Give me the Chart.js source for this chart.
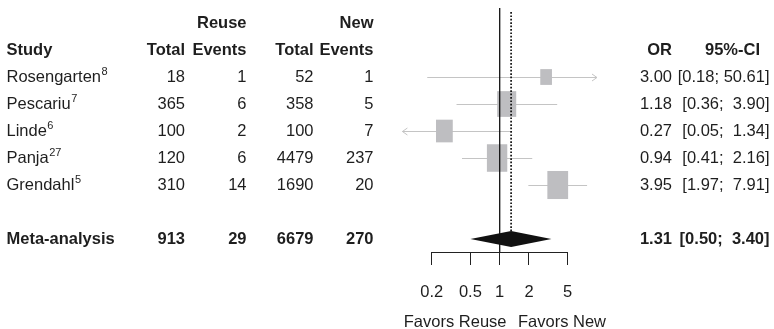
<!DOCTYPE html>
<html>
<head>
<meta charset="utf-8">
<script src="https://cdn.jsdelivr.net/npm/chart.js@4"></script>
<style>
  html, body { margin: 0; padding: 0; background: #fff; }
  canvas { display: block; }
</style>
</head>
<body>
<canvas id="forest" width="774" height="329"></canvas>
<script>
// Study data
const studies = ['Rosengarten', 'Pescariu', 'Linde', 'Panja', 'Grendahl'];
const refs = ['8', '7', '6', '27', '5'];
const reuseTotal = [18, 365, 100, 120, 310];
const reuseEvents = [1, 6, 2, 6, 14];
const newTotal = [52, 358, 100, 4479, 1690];
const newEvents = [1, 5, 7, 237, 20];
const oddsRatio = [3.00, 1.18, 0.27, 0.94, 3.95];
const ciLower = [0.18, 0.36, 0.05, 0.41, 1.97];
const ciUpper = [50.61, 3.90, 1.34, 2.16, 7.91];
const weights = [8.4, 22.3, 17.3, 25.5, 26.5]; // % weight

// Pooled estimate
const metaLabel = 'Meta-analysis';
const metaTotals = [913, 29, 6679, 270];
const metaOR = 1.31;
const metaLower = 0.50;
const metaUpper = 3.40;

// Axis
const xTicks = [0.2, 0.5, 1, 2, 5];
const xLimits = [0.1, 10];

const FONT = '"Liberation Sans", Arial, Helvetica, sans-serif';
const FS = 16.5;
const TEXT = '#1e1e1e';

function fmt(v) {
  return v.toFixed(2);
}
function ciText(lo, hi) {
  const h = fmt(hi);
  return '[' + fmt(lo) + ';' + (h.length < 5 ? '  ' : ' ') + h + ']';
}

const forestPlugin = {
  id: 'forest',
  afterDraw(chart) {
    const { ctx, chartArea } = chart;
    const x = chart.scales.x;
    const y = chart.scales.y;
    const px = (v) => x.getPixelForValue(v);
    const py = (k) => y.getPixelForValue(k);
    const metaRow = studies.length + 1;

    ctx.save();

    // confidence intervals, clipped to xlim with arrows
    ctx.strokeStyle = '#c4c4c4';
    ctx.lineWidth = 1;
    studies.forEach((s, i) => {
      const yy = Math.round(py(i)) + 0.5;
      const lo = Math.max(ciLower[i], xLimits[0]);
      const hi = Math.min(ciUpper[i], xLimits[1]);
      ctx.beginPath();
      ctx.moveTo(px(lo), yy);
      ctx.lineTo(px(hi), yy);
      ctx.stroke();
      if (ciLower[i] < xLimits[0]) {
        const ax = px(xLimits[0]);
        ctx.beginPath();
        ctx.moveTo(ax + 5, yy - 3.5);
        ctx.lineTo(ax, yy);
        ctx.lineTo(ax + 5, yy + 3.5);
        ctx.stroke();
      }
      if (ciUpper[i] > xLimits[1]) {
        const ax = px(xLimits[1]);
        ctx.beginPath();
        ctx.moveTo(ax - 5, yy - 3.5);
        ctx.lineTo(ax, yy);
        ctx.lineTo(ax - 5, yy + 3.5);
        ctx.stroke();
      }
    });

    // boxes sized by weight
    ctx.fillStyle = '#bebec1';
    studies.forEach((s, i) => {
      const h = Math.sqrt(weights[i]) * 5.45;
      const w = h * 0.74;
      ctx.fillRect(px(oddsRatio[i]) - w / 2, py(i) - h / 2, w, h);
    });

    // line of no effect
    ctx.strokeStyle = '#111';
    ctx.lineWidth = 1.3;
    ctx.beginPath();
    ctx.moveTo(px(1), chartArea.top);
    ctx.lineTo(px(1), chartArea.bottom);
    ctx.stroke();

    // pooled estimate (dotted)
    ctx.lineWidth = 1.7;
    ctx.setLineDash([1.7, 1.7]);
    ctx.beginPath();
    ctx.moveTo(px(metaOR), chartArea.top + 4);
    ctx.lineTo(px(metaOR), py(metaRow) - 8);
    ctx.stroke();
    ctx.setLineDash([]);

    // diamond
    const dy = py(metaRow);
    ctx.fillStyle = '#111';
    ctx.beginPath();
    ctx.moveTo(px(metaLower), dy);
    ctx.lineTo(px(metaOR), dy - 8);
    ctx.lineTo(px(metaUpper), dy);
    ctx.lineTo(px(metaOR), dy + 8);
    ctx.closePath();
    ctx.fill();

    // table text
    const cols = [185, 246.5, 313.5, 373.5];
    const orRight = 672;
    const ciRight = 769.5;
    const regular = FS + 'px ' + FONT;
    const bold = 'bold ' + FS + 'px ' + FONT;
    ctx.fillStyle = TEXT;
    ctx.textBaseline = 'middle';

    ctx.font = bold;
    ctx.textAlign = 'right';
    ctx.fillText('Reuse', cols[1], py(-2));
    ctx.fillText('New', cols[3], py(-2));
    ctx.fillText('Total', cols[0], py(-1));
    ctx.fillText('Events', cols[1], py(-1));
    ctx.fillText('Total', cols[2], py(-1));
    ctx.fillText('Events', cols[3], py(-1));
    ctx.fillText('OR', orRight, py(-1));
    ctx.fillText('95%-CI', 760, py(-1));
    ctx.textAlign = 'left';
    ctx.fillText('Study', 6.5, py(-1));

    studies.forEach((s, i) => {
      const yy = py(i);
      ctx.font = regular;
      ctx.textAlign = 'left';
      ctx.fillText(s, 6.5, yy);
      const sw = ctx.measureText(s).width;
      ctx.font = '11px ' + FONT;
      ctx.fillText(refs[i], 6.5 + sw + 0.5, yy - 5.5);
      ctx.font = regular;
      ctx.textAlign = 'right';
      [reuseTotal[i], reuseEvents[i], newTotal[i], newEvents[i]].forEach((v, c) => {
        ctx.fillText(String(v), cols[c], yy);
      });
      ctx.fillText(fmt(oddsRatio[i]), orRight, yy);
      ctx.fillText(ciText(ciLower[i], ciUpper[i]), ciRight, yy);
    });

    ctx.font = bold;
    ctx.textAlign = 'left';
    ctx.fillText(metaLabel, 6.5, dy);
    ctx.textAlign = 'right';
    metaTotals.forEach((v, c) => ctx.fillText(String(v), cols[c], dy));
    ctx.fillText(fmt(metaOR), orRight, dy);
    ctx.fillText(ciText(metaLower, metaUpper), ciRight, dy);

    // direction labels
    ctx.font = regular;
    ctx.textAlign = 'right';
    ctx.fillText('Favors Reuse', 506.5, 322);
    ctx.textAlign = 'left';
    ctx.fillText('Favors New', 518, 322);

    ctx.restore();
  }
};

new Chart(document.getElementById('forest'), {
  type: 'scatter',
  data: {
    datasets: [{
      data: oddsRatio.map((v, i) => ({ x: v, y: i })),
      pointRadius: 0
    }]
  },
  options: {
    responsive: false,
    animation: false,
    devicePixelRatio: 1,
    layout: { padding: { left: 431.7, right: 206.3, top: 8, bottom: 7 } },
    plugins: { legend: { display: false }, tooltip: { enabled: false } },
    scales: {
      x: {
        type: 'logarithmic',
        min: 0.2,
        max: 5,
        afterBuildTicks: (scale) => {
          scale.ticks = xTicks.map((v) => ({ value: v }));
        },
        afterFit: (scale) => {
          scale.height = 70;
        },
        ticks: {
          autoSkip: false,
          maxRotation: 0,
          padding: 18,
          color: TEXT,
          font: { family: FONT, size: FS },
          callback: (v) => String(v)
        },
        grid: { drawOnChartArea: false, drawTicks: true, tickLength: 13, color: '#222', lineWidth: 1 },
        border: { display: true, color: '#222', width: 1 }
      },
      y: {
        type: 'linear',
        reverse: true,
        min: -2.556,
        max: 6.481,
        display: false
      }
    }
  },
  plugins: [forestPlugin]
});
</script>
</body>
</html>
